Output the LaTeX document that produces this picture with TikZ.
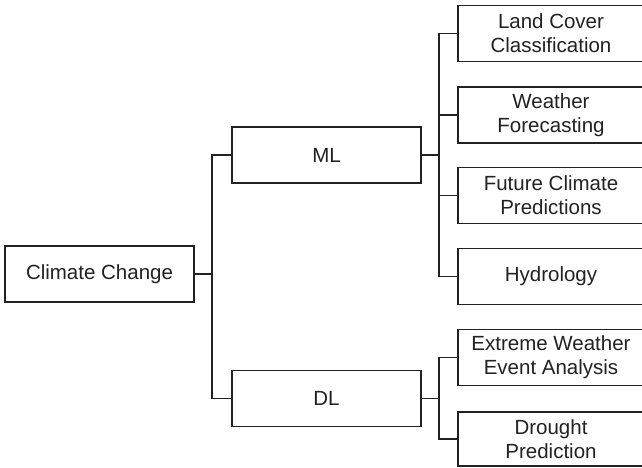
\documentclass[tikz,border=0pt]{standalone}
\usepackage{fontspec}
\setmainfont{Liberation Sans}
\definecolor{ink}{HTML}{222222}
\begin{document}
\begin{tikzpicture}[x=1pt,y=-1pt,
  box/.style={draw=ink, line width=1.9pt, text=ink, inner sep=0pt,
    align=center, font=\fontsize{20.5}{24}\selectfont},
  midbox/.style={box, minimum width=189pt, minimum height=56pt},
  leafbox/.style={box, minimum width=186pt, minimum height=56pt},
  link/.style={draw=ink, line width=1.9pt}]
\useasboundingbox (0,0) rectangle (642,467);
\clip (0,0) rectangle (642,467);
\fill[white] (0,0) rectangle (642,467);

% root and the two method branches
\node[midbox] (cc) at (99.5,274) {Climate Change};
\node[midbox] (ml) at (326.5,155) {ML};
\node[midbox] (dl) at (326.5,398.5) {DL};

% applications
\node[leafbox] (land)    at (551,33.5)  {Land Cover\\Classification};
\node[leafbox] (weather) at (551,115)   {Weather\\Forecasting};
\node[leafbox] (future)  at (551,195.5) {Future Climate\\Predictions};
\node[leafbox] (hydro)   at (551,276.5) {Hydrology};
\node[leafbox] (extreme) at (551,357.5) {Extreme Weather\\Event Analysis};
\node[leafbox, minimum height=54pt] (drought) at (551,439) {Drought\\Prediction};

% bracket from the root to ML / DL
\coordinate (trunk) at (212,274);
\draw[link] (cc.east) -- (trunk);
\draw[link] (ml.west) -| (trunk) |- (dl.west);

% bracket from ML to its applications
\coordinate (mlbus) at (439,155);
\draw[link] (ml.east) -- (mlbus);
\draw[link] (land.west) -| (mlbus) |- (hydro.west);
\draw[link] (weather.west) -- (weather.west -| mlbus);
\draw[link] (future.west) -- (future.west -| mlbus);

% bracket from DL to its applications
\coordinate (dlbus) at (439,398.5);
\draw[link] (dl.east) -- (dlbus);
\draw[link] (extreme.west) -| (dlbus) |- (drought.west);
\end{tikzpicture}
\end{document}
